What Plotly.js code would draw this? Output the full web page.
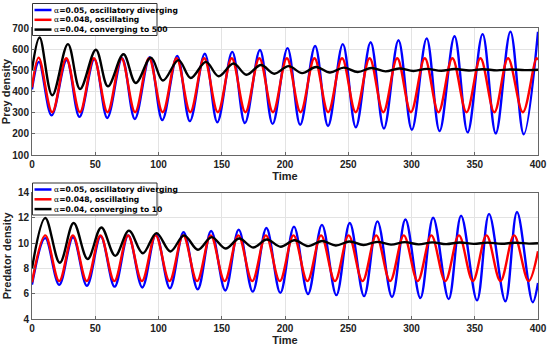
<!DOCTYPE html>
<html><head><meta charset="utf-8">
<script src="https://cdn.plot.ly/plotly-3.0.1.min.js"></script>
<style>html,body{margin:0;padding:0;background:#fff}#chart{width:550px;height:349px}</style>
</head><body><div id="chart"></div>
<script>
// ---- Data (extrema + endpoints) ----
const legendLabelsPrey = ["=0.05, oscillatory diverging", "=0.048, oscillating", "=0.04, converging to 500"];
const legendLabelsPred = ["=0.05, oscillatory diverging", "=0.048, oscillating", "=0.04, converging to 10"];
const seriesColors = ["#0000ff", "#ff0000", "#000000"];

const preyBlueTime = [0, 5.5, 15.5, 27.4, 37.5, 49.3, 59.5, 71.2, 81.3, 93, 103, 114.8, 124.8, 136.6, 146.5, 158.3, 168.3, 180.2, 190.2, 202, 212, 223.8, 234, 245.7, 256, 267.7, 278.2, 289.7, 300.3, 312, 322.2, 334, 344.4, 356.2, 366.6, 378.2, 388.7, 400];
const preyBlueValue = [410, 540, 287, 548, 280, 553, 275, 557, 270, 562, 265, 568, 260, 578, 255, 587, 251, 596, 247, 605, 243, 615, 237, 624, 231, 633, 225, 642, 219, 651, 213, 661, 207, 671, 202, 683, 198, 682];

const preyRedTime = [0, 5.3, 16, 27.1, 37.9, 48.9, 59.7, 70.7, 81.5, 92.5, 103.3, 114.3, 125.1, 136.1, 146.9, 157.9, 168.7, 179.7, 190.5, 201.5, 212.3, 223.3, 234.1, 245.1, 255.9, 266.9, 277.7, 288.7, 299.5, 310.5, 321.3, 332.3, 343.5, 354.5, 365.5, 376.3, 388, 398.7, 400];
const preyRedValue = [420, 560, 302, 557, 302, 557, 302, 557, 302, 557, 302, 557, 302, 557, 302, 557, 302, 557, 302, 557, 302, 557, 302, 557, 302, 557, 302, 557, 302, 557, 302, 557, 302, 557, 302, 557, 302, 557, 550];

const preyBlackTime = [0, 6, 16, 28.4, 38, 50.5, 60, 72.3, 82, 94, 103.5, 115.8, 125.5, 137.5, 147.5, 159.3, 169.5, 181, 191.5, 202.8, 213.5, 224.6, 235.5, 246.5, 257.5, 268.3, 279.5, 290.2, 301.5, 312, 323.5, 334, 345.5, 356, 367.5, 378, 389.5, 400];
const preyBlackValue = [502, 655, 382, 624, 412, 597, 425, 576, 440, 560, 452, 548, 464, 540, 472, 532, 479, 525, 484, 520, 487, 516, 490, 513, 492, 511, 495, 509, 497, 507, 498, 506, 499, 505, 500, 504, 501, 503];

const predBlueTime = [0, 10.5, 21.5, 32.4, 43.4, 54.3, 65.3, 76.1, 87.2, 98, 109, 119.8, 131, 141.6, 152.8, 163.4, 174.5, 185.3, 196.3, 207.1, 218.2, 229.2, 240.6, 251.2, 262.5, 273.1, 284.6, 295.2, 307, 317.1, 329.4, 339.2, 351.8, 361.3, 374.2, 383.4, 395.8, 400];
const predBlueValue = [6.72, 10.4, 6.7, 10.47, 6.63, 10.55, 6.56, 10.62, 6.5, 10.7, 6.43, 10.87, 6.35, 10.97, 6.26, 11.08, 6.17, 11.2, 6.07, 11.31, 5.98, 11.45, 5.89, 11.6, 5.81, 11.73, 5.74, 11.88, 5.66, 12.02, 5.57, 12.18, 5.48, 12.32, 5.4, 12.47, 5.32, 6.85];

const predRedTime = [0, 10.5, 21.5, 32.3, 43.3, 54.1, 65.1, 75.9, 86.9, 97.7, 108.7, 119.5, 130.5, 141.3, 152.3, 163.1, 174.1, 184.9, 195.9, 206.7, 217.7, 228.5, 239.5, 250.3, 261.3, 272.1, 283.1, 293.9, 304.9, 315.7, 326.7, 337.5, 348.5, 359.3, 370.3, 381.1, 392.5, 400];
const predRedValue = [6.9, 10.62, 7.0, 10.62, 7.0, 10.62, 7.0, 10.62, 7.0, 10.62, 7.0, 10.62, 7.0, 10.62, 7.0, 10.62, 7.0, 10.62, 7.0, 10.62, 7.0, 10.62, 7.0, 10.62, 7.0, 10.62, 7.0, 10.62, 7.0, 10.62, 7.0, 10.62, 7.0, 10.62, 7.0, 10.62, 7.0, 9.36];

const predBlackTime = [0, 10.5, 22, 32.9, 44, 54.8, 65.8, 76.6, 87.6, 98.4, 109.4, 120.2, 131.2, 142, 153, 163.8, 174.8, 185.6, 196.6, 207.4, 218.4, 229.2, 240.2, 251, 262, 272.8, 283.8, 294.6, 305.6, 316.4, 327.4, 338.2, 349.2, 360, 371, 381.8, 392.8, 400];
const predBlackValue = [8.0, 12.0, 8.45, 11.6, 8.75, 11.25, 9.0, 11.0, 9.2, 10.8, 9.35, 10.62, 9.48, 10.48, 9.58, 10.37, 9.66, 10.29, 9.72, 10.23, 9.77, 10.18, 9.82, 10.14, 9.86, 10.11, 9.89, 10.09, 9.91, 10.07, 9.93, 10.06, 9.95, 10.05, 9.96, 10.04, 9.97, 10.0];

const xTicks = [0, 50, 100, 150, 200, 250, 300, 350, 400];
const preyTicks = [100, 200, 300, 400, 500, 600, 700];
const predTicks = [4, 6, 8, 10, 12, 14];

// ---- Layout geometry ----
const W = 550, H = 349, ML = 32, MR = 12, MT = 28, MB = 30;
const PW = W - ML - MR, PH = H - MT - MB;
const px = x => (x - ML) / PW;
const py = y => (H - MB - y) / PH;

function line(t, v, color, xa, ya) {
  return {x: t, y: v, xaxis: xa, yaxis: ya, type: 'scatter', mode: 'lines',
          line: {color: color, width: 2.4, shape: 'spline', smoothing: 1},
          showlegend: false, hoverinfo: 'skip'};
}
const traces = [
  line(preyBlueTime, preyBlueValue, seriesColors[0], 'x', 'y'),
  line(preyRedTime, preyRedValue, seriesColors[1], 'x', 'y'),
  line(preyBlackTime, preyBlackValue, seriesColors[2], 'x', 'y'),
  line(predBlueTime, predBlueValue, seriesColors[0], 'x2', 'y2'),
  line(predRedTime, predRedValue, seriesColors[1], 'x2', 'y2'),
  line(predBlackTime, predBlackValue, seriesColors[2], 'x2', 'y2')
];

const FONT = 'Liberation Sans, Arial, Helvetica, sans-serif';
const tickFont = {family: FONT, size: 10, color: '#222', weight: 'bold'};
const titleFont = {family: FONT, size: 11, color: '#222', weight: 'bold'};
function xaxis(anchor) {
  return {anchor: anchor, range: [0, 400], tickvals: xTicks, ticktext: xTicks.map(String),
    showgrid: true, gridcolor: '#e3e3e3', gridwidth: 1, zeroline: false,
    showline: true, linecolor: '#666', linewidth: 1, mirror: true,
    ticks: 'inside', ticklen: 3, tickcolor: '#666', tickfont: tickFont,
    title: {text: 'Time', font: titleFont, standoff: 2}};
}
function yaxis(anchor, dom, rng, ticks, title) {
  return {anchor: anchor, domain: dom, range: rng, tickvals: ticks, ticktext: ticks.map(String),
    showgrid: true, gridcolor: '#e3e3e3', gridwidth: 1, zeroline: false,
    showline: true, linecolor: '#666', linewidth: 1, mirror: true,
    ticks: 'inside', ticklen: 3, tickcolor: '#666', tickfont: tickFont,
    title: {text: title, font: titleFont, standoff: 4}};
}

// ---- Hand-drawn legends (boxes, sample lines, labels) ----
const shapes = [], annotations = [];
function legend(top, labels) {
  const x0 = 32.5, x1 = 157, h = 32;
  shapes.push({type: 'rect', xref: 'paper', yref: 'paper', layer: 'above',
    x0: px(x0), x1: px(x1), y0: py(top + h), y1: py(top),
    fillcolor: '#ffffff', line: {color: '#333', width: 1}});
  const rows = [top + 6.5, top + 16.3, top + 26.1];
  labels.forEach((lab, i) => {
    shapes.push({type: 'line', xref: 'paper', yref: 'paper', layer: 'above',
      x0: px(34.5), x1: px(51.5), y0: py(rows[i]), y1: py(rows[i]),
      line: {color: seriesColors[i], width: 2.5}});
    annotations.push({xref: 'paper', yref: 'paper', x: px(52.5), y: py(rows[i]),
      xanchor: 'left', yanchor: 'middle', showarrow: false, borderpad: 0,
      text: '<span style="font-family:DejaVu Serif;font-weight:normal">α</span>' + lab,
      font: {family: 'DejaVu Sans, sans-serif', size: 7.6, color: '#000', weight: 'bold'}});
  });
}
legend(3.5, legendLabelsPrey);
legend(183, legendLabelsPred);

const topDom = [py(155), 1];
const botDom = [0, py(192.7)];

const layout = {
  width: W, height: H, margin: {l: ML, r: MR, t: MT, b: MB},
  paper_bgcolor: '#fff', plot_bgcolor: '#fff', showlegend: false,
  xaxis: xaxis('y'), yaxis: yaxis('x', topDom, [100, 700], preyTicks, 'Prey density'),
  xaxis2: xaxis('y2'), yaxis2: yaxis('x2', botDom, [4, 14], predTicks, 'Predator density'),
  shapes: shapes, annotations: annotations
};
Plotly.newPlot('chart', traces, layout, {staticPlot: true, displayModeBar: false});
</script></body></html>
